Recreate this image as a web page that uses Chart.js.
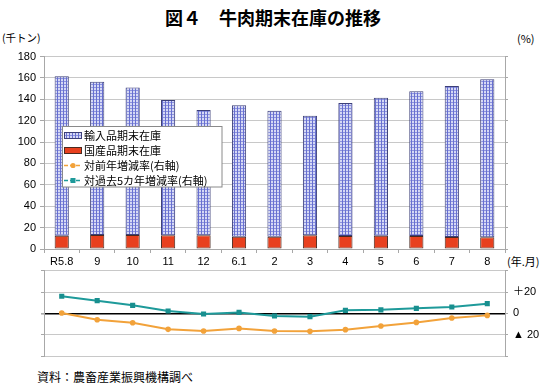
<!DOCTYPE html>
<html>
<head>
<meta charset="utf-8">
<script src="https://cdn.jsdelivr.net/npm/chart.js@4/dist/chart.umd.min.js"></script>
<style>
  html, body { margin: 0; padding: 0; background: #fff; }
  #wrap { position: relative; width: 550px; height: 386px; background: #fff; overflow: hidden; font-family: "Noto Sans CJK JP", sans-serif; color: #000; }
  .txt { position: absolute; white-space: nowrap; line-height: 1; }
  canvas { position: absolute; left: 0; }
</style>
</head>
<body>
<div id="wrap">
  <div class="txt" id="title" style="left:0;width:546px;text-align:center;top:8px;font-size:18px;font-weight:bold;">図４　牛肉期末在庫の推移</div>
  <div class="txt" style="left:2px;top:33px;font-size:10.5px;">(千トン)</div>
  <div class="txt" style="left:517px;top:33px;font-size:11px;">(%)</div>
  <div class="txt" style="left:507px;top:256px;font-size:11px;">(年.月)</div>
  <div class="txt" style="left:37px;top:371px;font-size:12px;">資料：農畜産業振興機構調べ</div>
  <canvas id="topChart" width="550" height="268" style="top:0"></canvas>
  <canvas id="botChart" width="550" height="128" style="top:258px"></canvas>
</div>
<script>
// ---- data ----
const categories = ["R5.8", "9", "10", "11", "12", "6.1", "2", "3", "4", "5", "6", "7", "8"];
const domesticStock = [12.4, 13.1, 13.0, 12.8, 12.8, 11.5, 11.5, 12.8, 12.2, 12.4, 12.2, 11.2, 10.9];
const importedStock = [149.1, 143.4, 138.0, 126.5, 117.2, 122.9, 117.8, 111.8, 124.3, 129.1, 135.3, 141.2, 147.8];
const yoyRate = [0.3, -6.0, -8.8, -15.0, -16.6, -14.1, -16.6, -16.9, -15.3, -11.9, -8.5, -4.4, -1.9];
const vs5yrRate = [16.0, 11.9, 7.5, 2.2, -0.6, 0.9, -2.5, -3.1, 2.8, 3.3, 4.7, 5.9, 9.1];
const seriesNames = ["輸入品期末在庫", "国産品期末在庫", "対前年増減率(右軸)", "対過去5カ年増減率(右軸)"];
const leftTicks = [0, 20, 40, 60, 80, 100, 120, 140, 160, 180];
const rightTickLabels = { "20": "＋20", "0": "0", "-20": "▲ 20" };

// ---- styles ----
const GRID = '#c8c8c8';
const AXIS = '#a8a8a8';
const ORANGE = '#f2a23a';
const TEAL = '#1e9a9a';
const RED = '#e8401e';
const NUMFONT = "'Liberation Sans', 'Noto Sans CJK JP', sans-serif";

function makePattern() {
  const c = document.createElement('canvas');
  c.width = 3; c.height = 3;
  const g = c.getContext('2d');
  g.fillStyle = '#d6d9f5'; g.fillRect(0, 0, 3, 3);
  g.fillStyle = '#8c93de'; g.fillRect(0, 0, 3, 1);
  g.fillStyle = '#6870d0'; g.fillRect(0, 0, 1, 3);
  return g.createPattern(c, 'repeat');
}
const bluePattern = makePattern();

const legendPlugin = {
  id: 'boxLegend',
  afterDraw(chart) {
    const ctx = chart.ctx;
    const x0 = 62.5, y0 = 126.5, w = 159.5, h = 60.5;
    ctx.save();
    ctx.fillStyle = '#fff';
    ctx.fillRect(x0, y0, w, h);
    ctx.strokeStyle = '#8a8a8a';
    ctx.lineWidth = 1;
    ctx.strokeRect(x0, y0, w, h);
    ctx.font = "11px 'Noto Sans CJK JP', sans-serif";
    ctx.textBaseline = 'middle';
    seriesNames.forEach((name, i) => {
      const cy = 135.5 + i * 15;
      if (i === 0) {
        ctx.fillStyle = bluePattern; ctx.fillRect(64.5, cy - 3, 17, 6);
        ctx.strokeStyle = '#3c3f78'; ctx.strokeRect(64.5, cy - 3, 17, 6);
      } else if (i === 1) {
        ctx.fillStyle = RED; ctx.fillRect(64.5, cy - 3, 17, 6);
        ctx.strokeStyle = '#4a2a20'; ctx.strokeRect(64.5, cy - 3, 17, 6);
      } else {
        const col = i === 2 ? ORANGE : TEAL;
        ctx.strokeStyle = col; ctx.lineWidth = 1.5;
        ctx.setLineDash([4, 2]);
        ctx.beginPath(); ctx.moveTo(64, cy); ctx.lineTo(82, cy); ctx.stroke();
        ctx.setLineDash([]);
        ctx.fillStyle = col;
        if (i === 2) { ctx.beginPath(); ctx.arc(73, cy, 2.6, 0, Math.PI * 2); ctx.fill(); }
        else { ctx.fillRect(70.5, cy - 2.5, 5, 5); }
        ctx.lineWidth = 1;
      }
      ctx.fillStyle = '#000';
      ctx.fillText(name, 84, cy + 0.5);
    });
    ctx.restore();
  }
};

new Chart(document.getElementById('topChart'), {
  type: 'bar',
  data: {
    labels: categories,
    datasets: [
      { label: seriesNames[1], data: domesticStock, backgroundColor: RED, borderColor: '#4a2a20', borderWidth: 1, borderSkipped: false, categoryPercentage: 1, barPercentage: 0.4 },
      { label: seriesNames[0], data: importedStock, backgroundColor: bluePattern, borderColor: '#3c3f78', borderWidth: 1, borderSkipped: false, categoryPercentage: 1, barPercentage: 0.4 }
    ]
  },
  options: {
    responsive: false,
    animation: false,
    devicePixelRatio: 1,
    layout: { padding: { left: 0, right: 0, top: 56.5, bottom: 0 } },
    plugins: { legend: { display: false }, tooltip: { enabled: false } },
    scales: {
      x: {
        stacked: true,
        offset: true,
        grid: { offset: true, drawOnChartArea: false, drawTicks: true, tickLength: 4, color: AXIS },
        border: { display: true, color: AXIS },
        ticks: { font: { size: 11, family: NUMFONT }, color: '#000', padding: 2, maxRotation: 0, autoSkip: false },
        afterFit(s) { s.height = 19; }
      },
      y: {
        stacked: true,
        min: 0, max: 180,
        afterBuildTicks(s) { s.ticks = leftTicks.map(v => ({ value: v })); },
        ticks: { font: { size: 11, family: NUMFONT }, color: '#000', padding: 4 },
        grid: { color: GRID, tickLength: 4, tickColor: AXIS },
        border: { display: true, color: AXIS },
        afterFit(s) { s.width = 44; }
      },
      y2: {
        position: 'right',
        min: 0, max: 180,
        afterBuildTicks(s) { s.ticks = leftTicks.map(v => ({ value: v })); },
        ticks: { display: false },
        grid: { drawOnChartArea: false, tickLength: 3, color: AXIS },
        border: { display: true, color: AXIS },
        afterFit(s) { s.width = 45; }
      }
    }
  },
  plugins: [legendPlugin]
});

new Chart(document.getElementById('botChart'), {
  type: 'line',
  data: {
    labels: categories,
    datasets: [
      { label: seriesNames[2], data: yoyRate, borderColor: ORANGE, backgroundColor: ORANGE, borderWidth: 2, pointStyle: 'circle', pointRadius: 2.8, pointBorderWidth: 0, tension: 0, yAxisID: 'y' },
      { label: seriesNames[3], data: vs5yrRate, borderColor: TEAL, backgroundColor: '#188f8f', borderWidth: 2, pointStyle: 'rect', pointRadius: 3.6, pointBorderWidth: 0, tension: 0, yAxisID: 'y' }
    ]
  },
  options: {
    responsive: false,
    animation: false,
    devicePixelRatio: 1,
    layout: { padding: { left: 0, right: 0, top: 12.7, bottom: 30 } },
    plugins: { legend: { display: false }, tooltip: { enabled: false } },
    scales: {
      x: {
        display: false,
        offset: true
      },
      y: {
        min: -40, max: 40,
        ticks: { stepSize: 20, display: false },
        grid: {
          color: (c) => c.tick && c.tick.value === 0 ? '#000' : GRID,
          lineWidth: (c) => c.tick && c.tick.value === 0 ? 1.6 : 1,
          tickLength: 3,
          tickColor: AXIS
        },
        border: { display: true, color: AXIS },
        afterFit(s) { s.width = 44; }
      },
      yr: {
        position: 'right',
        min: -40, max: 40,
        ticks: {
          stepSize: 20,
          font: { size: 11, family: NUMFONT },
          color: '#000',
          padding: 5,
          callback: (v) => rightTickLabels[String(v)] || ''
        },
        grid: { drawOnChartArea: false, tickLength: 3, color: AXIS },
        border: { display: true, color: AXIS },
        afterFit(s) { s.width = 45; }
      }
    }
  }
});
</script>
</body>
</html>
